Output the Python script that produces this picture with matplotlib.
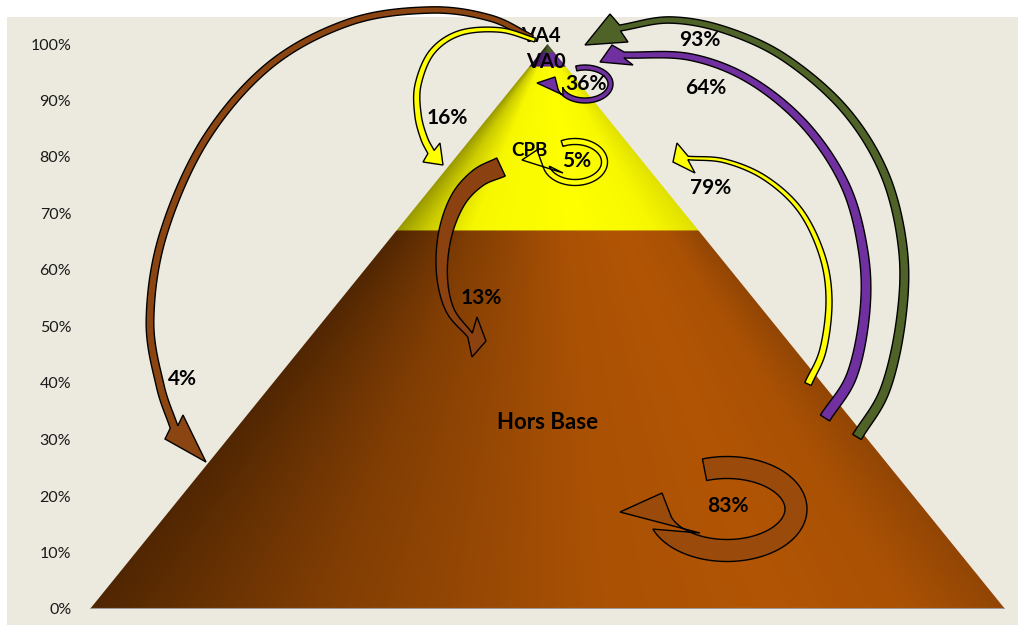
import matplotlib
matplotlib.use("Agg")
import matplotlib.pyplot as plt
from matplotlib.patches import Polygon, Rectangle
import numpy as np

plt.rcParams['font.family'] = ['Lato', 'DejaVu Sans']

# pyramid levels, bottom to top (share of total, %)
levels = ["Hors Base", "CPB", "VA0", "VA4"]
shares = [67.0, 29.0, 2.5, 1.5]
level_colors = [(178, 85, 5), (255, 255, 0), (112, 48, 160), (79, 98, 40)]

# transition flows shown as arrows
flow_labels = ["4%", "16%", "13%", "93%", "64%", "79%", "36%", "5%", "83%"]
flow_colors = ["#8B4513", "#FFFF00", "#8B4210", "#4F6228", "#7030A0",
               "#FFFF00", "#7030A0", "#FFFF00", "#9A4A0A"]

W, H = 1018, 628
fig = plt.figure(figsize=(W / 100, H / 100), dpi=100)
fig.patch.set_facecolor("white")
fig.add_artist(Rectangle((7 / W, 3 / H), (W - 7) / W, 608 / H,
                         transform=fig.transFigure, fc="#ECE9DF", ec="none", zorder=-10))

ax = fig.add_axes([90 / W, 19 / H, 915 / W, 565 / H])
ax.set_facecolor("none")
ax.set_xlim(-1, 1)
ax.set_ylim(0, 1)

# shaded cone image clipped to the triangle
bounds = np.cumsum([0] + shares) / 100.0
nx, ny = 900, 600
xs = np.linspace(-1, 1, nx)
ys = np.linspace(0, 1, ny)
X, Y = np.meshgrid(xs, ys)
hw = np.clip(1 - Y, 1e-3, None)
t = (np.clip(X / hw, -1, 1) + 1) / 2
shade_dark = np.interp(t, [0, 0.25, 0.55, 0.75, 0.9, 1.0], [0.45, 0.72, 0.95, 1.0, 0.95, 0.82])
shade_light = np.interp(t, [0, 0.1, 0.25, 0.6, 0.85, 1.0], [0.6, 0.8, 0.97, 1.0, 0.97, 0.88])
idx = np.clip(np.searchsorted(bounds, Y, side="right") - 1, 0, len(levels) - 1)
shade = np.where(idx == 1, shade_light, shade_dark)
base = np.array(level_colors, float)[idx] / 255.0
img = np.clip(base * shade[..., None], 0, 1)

tri = Polygon([[-1, 0], [0, 1], [1, 0]], closed=True, fc="none", ec="none")
ax.add_patch(tri)
im = ax.imshow(img, extent=(-1, 1, 0, 1), origin="lower", aspect="auto",
               interpolation="bilinear")
im.set_clip_path(tri)
ax.plot([-1, 1], [0, 0], color="#9a9a9a", lw=1.5, zorder=3)

ax.set_yticks(np.arange(0, 1.01, 0.1))
ax.set_yticklabels([f"{int(round(v * 100))}%" for v in np.arange(0, 1.01, 0.1)])
ax.tick_params(axis="y", length=0, pad=13.5, labelsize=11.5, labelcolor="#1a1a1a")
ax.set_xticks([])
for s in ax.spines.values():
    s.set_visible(False)

# level names
ax.text(0, 0.33, levels[0], ha="center", va="center", fontsize=16, fontweight="bold", zorder=6)
ax.text(-0.04, 0.812, levels[1], ha="center", va="center", fontsize=13.5, fontweight="bold", zorder=6)
ax.text(-0.003, 0.969, levels[2], ha="center", va="center", fontsize=14.5, fontweight="bold", zorder=6)
ax.text(-0.014, 1.014, levels[3], ha="center", va="center", fontsize=14.5, fontweight="bold",
        zorder=6, clip_on=False)

# overlay in pixel space for the flow arrows
ov = fig.add_axes([0, 0, 1, 1], zorder=5)
ov.set_xlim(0, W)
ov.set_ylim(H, 0)
ov.axis("off")


def smooth(pts, k=30):
    P = np.asarray(pts, float)
    P = np.vstack([2 * P[0] - P[1], P, 2 * P[-1] - P[-2]])
    out = []
    for i in range(1, len(P) - 2):
        p0, p1, p2, p3 = P[i - 1], P[i], P[i + 1], P[i + 2]
        for s in np.linspace(0, 1, k, endpoint=False):
            out.append(0.5 * ((2 * p1) + (-p0 + p2) * s + (2 * p0 - 5 * p1 + 4 * p2 - p3) * s ** 2
                              + (-p0 + 3 * p1 - 3 * p2 + p3) * s ** 3))
    out.append(P[-2])
    return np.array(out)


def ring(cx, cy, rx, ry, a0, a1, n=150):
    th = np.radians(np.linspace(a0, a1, n))
    return np.c_[cx + rx * np.cos(th), cy - ry * np.sin(th)]


def draw_arrow(c, tip, barbs, w0, w1, fc):
    seg = np.diff(c, axis=0)
    L = np.r_[0, np.cumsum(np.hypot(seg[:, 0], seg[:, 1]))]
    w = w0 + (w1 - w0) * L / L[-1]
    tg = np.gradient(c, axis=0)
    tg /= np.hypot(tg[:, 0], tg[:, 1])[:, None]
    nrm = np.c_[-tg[:, 1], tg[:, 0]]
    left = c + nrm * w[:, None] / 2
    right = c - nrm * w[:, None] / 2
    b1, b2 = np.asarray(barbs[0], float), np.asarray(barbs[1], float)
    if np.hypot(*(b1 - left[-1])) > np.hypot(*(b2 - left[-1])):
        b1, b2 = b2, b1
    poly = np.vstack([left, b1, tip, b2, right[::-1]])
    ov.add_patch(Polygon(poly, closed=True, fc=fc, ec="black", lw=1.0, joinstyle="miter"))


arrows = [
    (smooth([(532, 38), (490, 18), (430, 10), (350, 22), (270, 65), (205, 140),
             (163, 235), (150, 320), (160, 385), (174, 427)]),
     (206, 462), [(165, 439), (183, 415)], 6, 8),
    (smooth([(535, 40), (500, 30), (460, 33), (432, 52), (418, 85), (418, 115),
             (424, 138), (431, 152)]),
     (443, 165), [(423, 162), (440, 143)], 4, 7),
    (smooth([(501, 167), (478, 178), (458, 200), (445, 235), (442, 275), (450, 310),
             (470, 335)]),
     (486, 341), [(477, 317), (472, 357)], 20, 6),
    (smooth([(857, 437), (885, 390), (901, 320), (903, 250), (885, 175), (845, 110),
             (785, 58), (725, 30), (670, 20), (620, 28)]),
     (585, 45), [(610, 14), (628, 42)], 10, 6),
    (smooth([(825, 418), (852, 375), (865, 310), (863, 250), (845, 185), (805, 125),
             (750, 80), (690, 57), (624, 55)]),
     (600, 62), [(612, 45), (633, 65)], 11, 6),
    (smooth([(808, 384), (823, 350), (829, 300), (822, 255), (800, 210), (765, 178),
             (725, 161), (688, 158)]),
     (673, 162), [(677, 143), (695, 173)], 7, 3.5),
    (ring(585, 84, 25.5, 16.5, 110, -165), (537, 83), [(555, 77), (563, 95)], 5, 5),
    (ring(575, 162, 29.5, 20.5, 116, -165), (522, 160), [(537, 150), (563, 173)], 6, 6),
    (ring(727, 509, 69, 41.5, 109, -160), (620, 512), [(662, 493), (700, 533)], 22, 22),
]
for (c, tip, barbs, w0, w1), fc in zip(arrows, flow_colors):
    draw_arrow(c, tip, barbs, w0, w1, fc)

label_pos = [(182, 379), (447, 118), (481, 298), (700, 40), (706, 88), (711, 188),
             (586, 84), (577, 161), (728, 506)]
for lab, (x, y) in zip(flow_labels, label_pos):
    ov.text(x, y, lab, ha="center", va="center", fontsize=15, fontweight="bold", zorder=10)

fig.savefig("out.png", dpi=100)
